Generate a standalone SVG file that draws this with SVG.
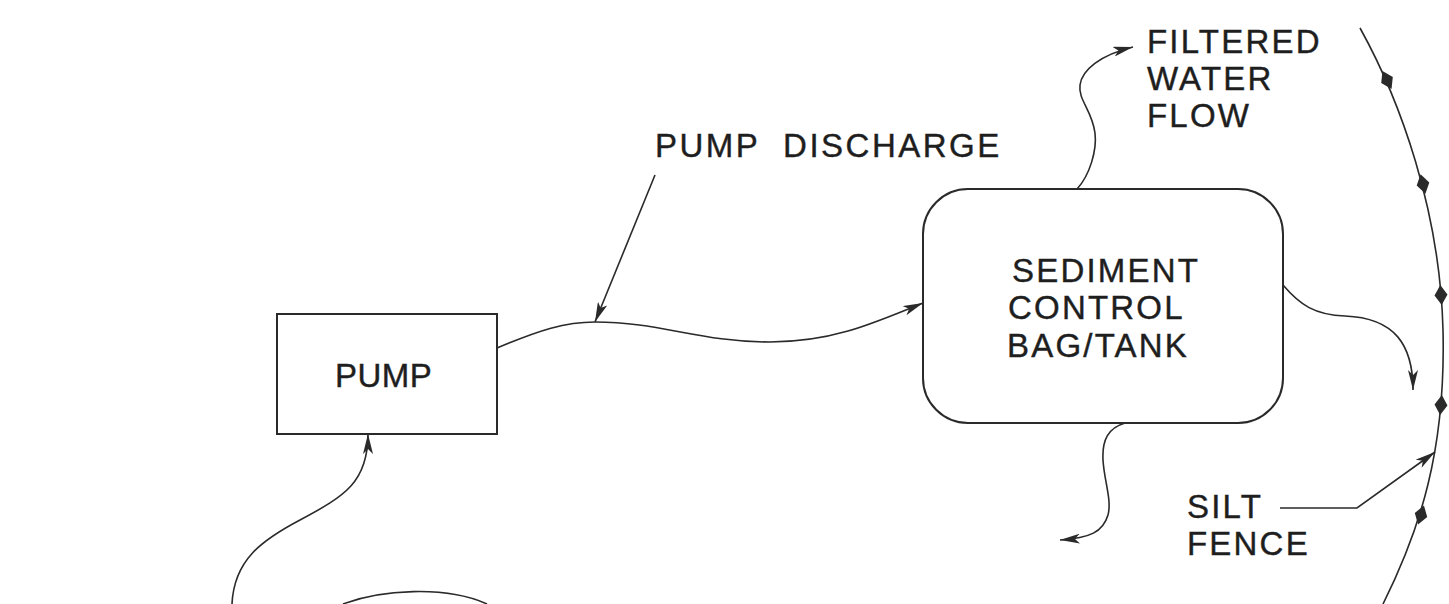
<svg xmlns="http://www.w3.org/2000/svg" width="1449" height="604" viewBox="0 0 1449 604">
<style>
.ln{fill:none;stroke:#2a2a2a;stroke-width:1.6}
.box{fill:#fff;stroke:#2a2a2a;stroke-width:2}
.t{font-family:"Liberation Sans",Arial,sans-serif;font-size:33px;fill:#1e1e1e;stroke:#1e1e1e;stroke-width:0.4;letter-spacing:2.2px}
.dm{fill:#2a2a2a}
</style>
<defs>
<marker id="ah" viewBox="0 0 20 10" refX="20" refY="5" markerWidth="20" markerHeight="10" markerUnits="userSpaceOnUse" orient="auto">
<path d="M0,0 L20,5 L0,10 L5,5 Z" fill="#2a2a2a"/>
</marker>
</defs>
<rect width="1449" height="604" fill="#fff"/>
<g id="connectors">
<path class="ln" d="M497,348 C540,330 565,322 595,322 C660,322 700,342 770,342 C830,342 870,325 923,303" marker-end="url(#ah)"/>
<path class="ln" d="M655,175 L595,322" marker-end="url(#ah)"/>
<path class="ln" d="M232,604 C234,560 262,540 300,520 C345,496 368,482 368,434" marker-end="url(#ah)"/>
<path class="ln" d="M343,604 C380,590 445,585 487,604"/>
<path class="ln" d="M1077,189 C1090,175 1097,150 1095,133 C1092,110 1078,100 1080,85 C1082,70 1100,55 1133,47" marker-end="url(#ah)"/>
<path class="ln" d="M1283,285 C1300,305 1315,315 1345,316 C1395,318 1413,345 1413,390" marker-end="url(#ah)"/>
<path class="ln" d="M1125,423 C1108,428 1102,440 1103,460 C1104,480 1112,500 1108,515 C1103,532 1090,538 1060,540" marker-end="url(#ah)"/>
<path class="ln" d="M1280,508 L1357,508 L1435,452" marker-end="url(#ah)"/>
</g>
<g id="silt-fence">
<path class="ln" d="M1360,28 C1400,100 1440,210 1443,330 C1446,450 1420,530 1383,604"/>
<polygon class="dm" points="0,-10 6.5,0 0,10 -6.5,0" transform="translate(1387,80) rotate(-27)"/>
<polygon class="dm" points="0,-10 6.5,0 0,10 -6.5,0" transform="translate(1423,184) rotate(-14)"/>
<polygon class="dm" points="0,-10 6.5,0 0,10 -6.5,0" transform="translate(1441,295) rotate(-4)"/>
<polygon class="dm" points="0,-10 6.5,0 0,10 -6.5,0" transform="translate(1441,405) rotate(5)"/>
<polygon class="dm" points="0,-10 6.5,0 0,10 -6.5,0" transform="translate(1421,515) rotate(17)"/>
</g>
<g id="pump">
<rect class="box" x="277" y="314" width="220" height="120"/>
<text class="t" x="335" y="387" style="letter-spacing:0.5px">PUMP</text>
</g>
<g id="sediment">
<rect class="box" x="923" y="189" width="360" height="234" rx="45" ry="45"/>
<text class="t" x="1012" y="282">SEDIMENT</text>
<text class="t" x="1008" y="319">CONTROL</text>
<text class="t" x="1007" y="357">BAG/TANK</text>
</g>
<g id="labels">
<text class="t" x="655" y="157" xml:space="preserve" style="letter-spacing:2.5px">PUMP  DISCHARGE</text>
<text class="t" x="1147" y="53">FILTERED</text>
<text class="t" x="1147" y="90">WATER</text>
<text class="t" x="1147" y="127">FLOW</text>
<text class="t" x="1187" y="518">SILT</text>
<text class="t" x="1187" y="555">FENCE</text>
</g>
</svg>
